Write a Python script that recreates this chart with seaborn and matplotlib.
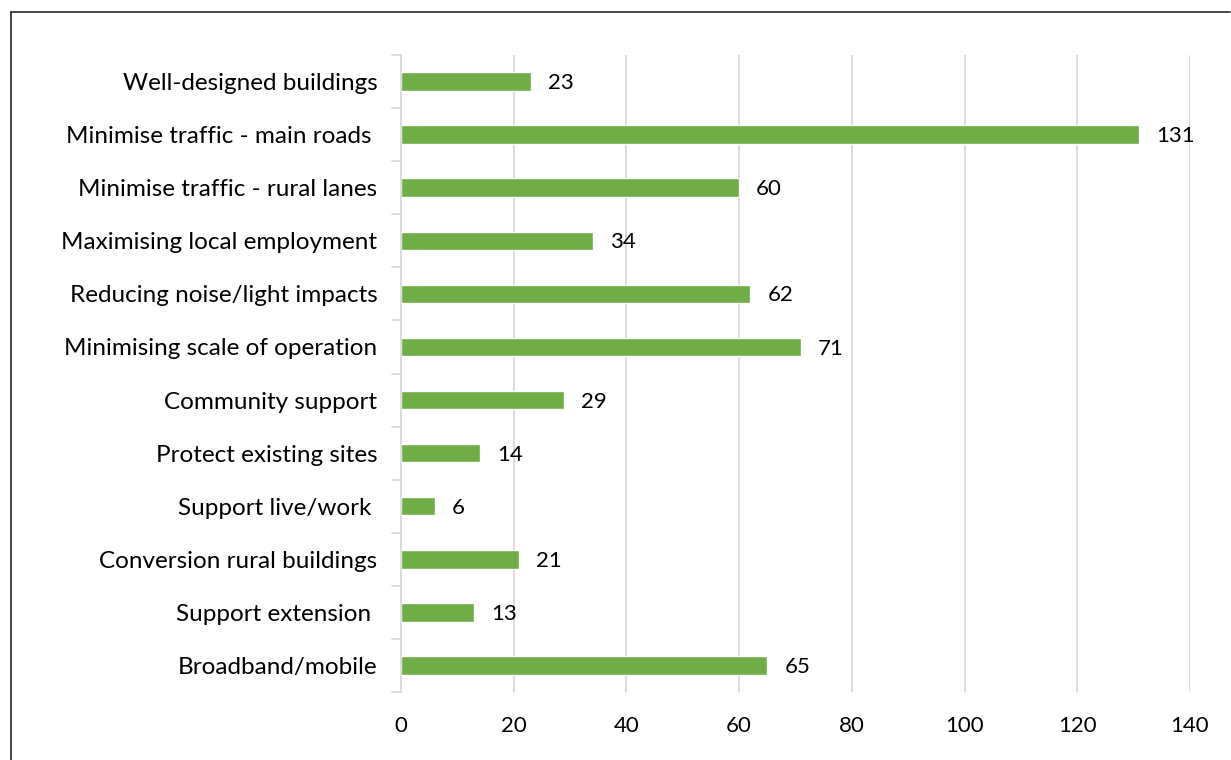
import matplotlib
matplotlib.use("Agg")
import matplotlib.pyplot as plt
import seaborn as sns
import pandas as pd
from matplotlib.lines import Line2D

categories = [
    "Well-designed buildings",
    "Minimise traffic - main roads ",
    "Minimise traffic - rural lanes",
    "Maximising local employment",
    "Reducing noise/light impacts",
    "Minimising scale of operation",
    "Community support",
    "Protect existing sites",
    "Support live/work ",
    "Conversion rural buildings",
    "Support extension ",
    "Broadband/mobile",
]
values = [23, 131, 60, 34, 62, 71, 29, 14, 6, 21, 13, 65]
x_ticks = [0, 20, 40, 60, 80, 100, 120, 140]

df = pd.DataFrame({"category": categories, "value": values})

sns.set_theme(style="white")
plt.rcParams["font.family"] = ["Lato", "DejaVu Sans"]

fig = plt.figure(figsize=(12.31, 7.6), dpi=100)
ax = fig.add_axes([0.3258, 0.0895, 0.6409, 0.8381])

green = "#70AD47"
sns.barplot(data=df, y="category", x="value", orient="h", color=green,
            width=0.35, saturation=1, ax=ax, zorder=3)

ax.set_xlim(0, 140)
ax.set_ylim(len(categories) - 0.5, -0.5)
ax.set_xticks(x_ticks)
ax.set_xticklabels([str(t) for t in x_ticks], fontsize=16, color="#000000")
ax.set_xlabel("")
ax.set_ylabel("")

# vertical gridlines
ax.xaxis.grid(True, color="#D9D9D9", linewidth=1.3, zorder=0)
ax.set_axisbelow(True)
for s in ["top", "right", "bottom"]:
    ax.spines[s].set_visible(False)
ax.spines["left"].set_color("#D9D9D9")
ax.spines["left"].set_linewidth(1.3)
ax.spines["left"].set_zorder(4)

# category labels on the y axis, tick marks at band boundaries
ax.set_yticks(range(len(categories)))
ax.set_yticklabels(categories, fontsize=17.5, color="#000000")
ax.tick_params(axis="y", length=0, pad=17)
ax.tick_params(axis="x", length=0, pad=17)
for b in [i - 0.5 for i in range(len(categories) + 1)]:
    ax.plot([-0.012, 0], [b, b], transform=ax.get_yaxis_transform(),
            color="#D9D9D9", linewidth=1.3, clip_on=False, zorder=4)

# value labels
for i, v in enumerate(values):
    ax.text(v + 3, i + 0.03, str(v), va="center", ha="left", fontsize=16,
            color="#000000")

# chart border
fig.add_artist(Line2D([0.0089, 0.0089], [0, 0.9842], transform=fig.transFigure,
                      color="#262626", linewidth=1.2))
fig.add_artist(Line2D([0.0089, 0.9992], [0.9842, 0.9842], transform=fig.transFigure,
                      color="#262626", linewidth=1.2))

fig.savefig("out.png", dpi=100)
